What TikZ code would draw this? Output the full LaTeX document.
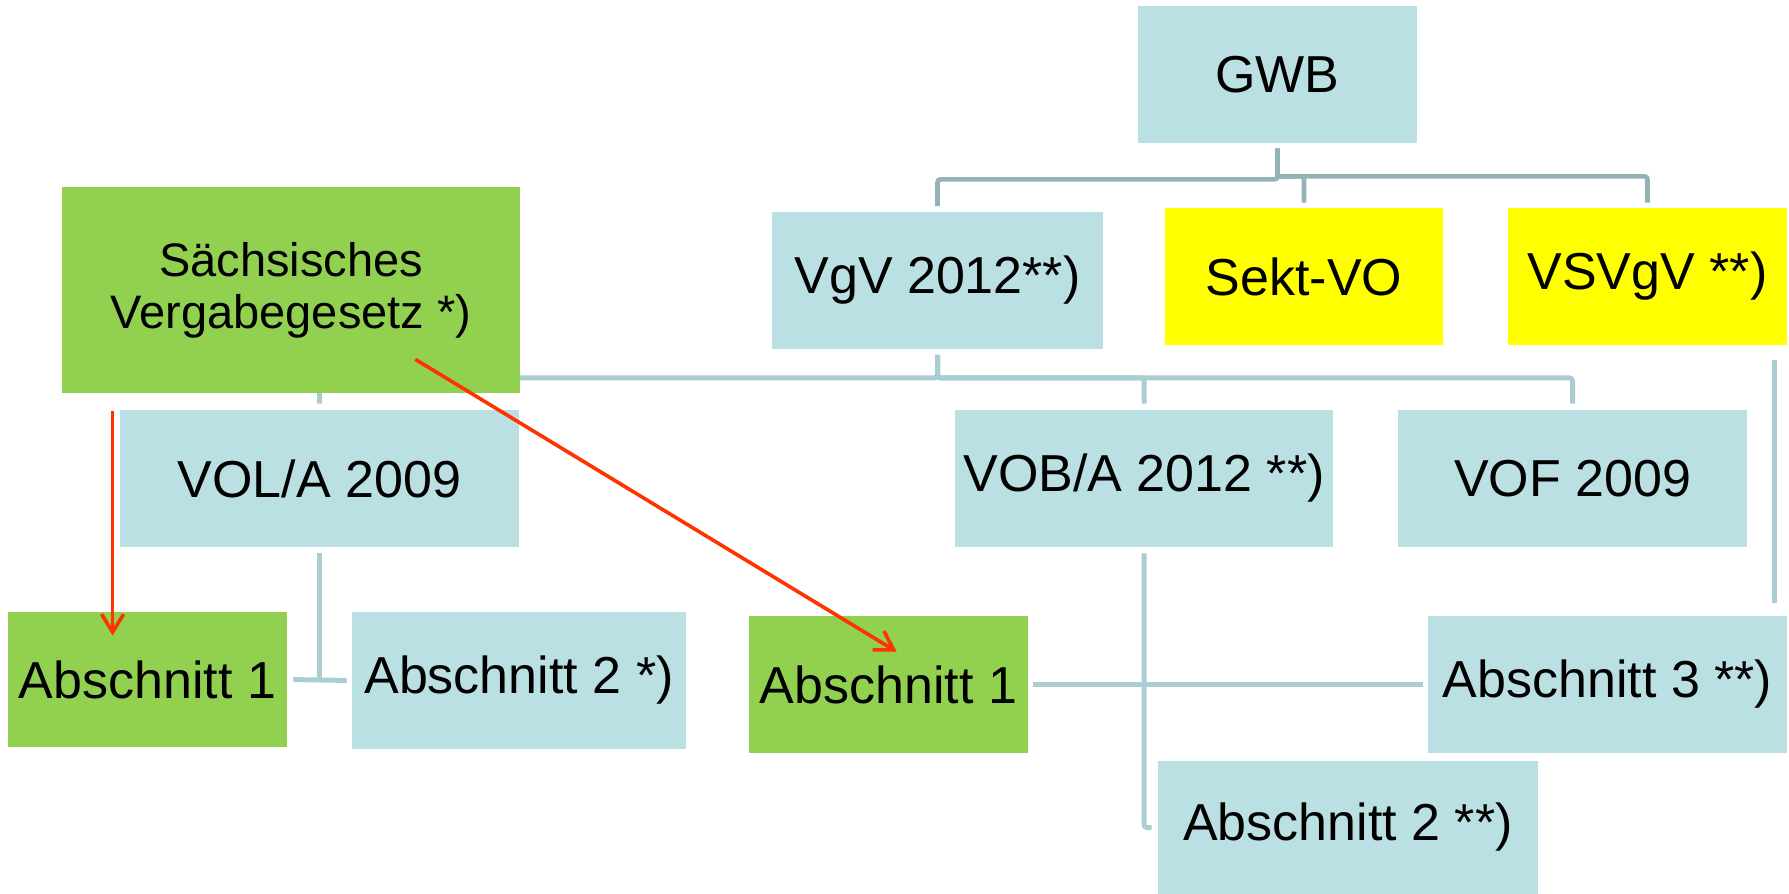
\documentclass[tikz,border=0pt]{standalone}
\usepackage{fontspec}
\setmainfont{Liberation Sans}
\usepackage{tikz}
\usetikzlibrary{positioning,arrows.meta,backgrounds}
\definecolor{vblue}{HTML}{BBE0E3}
\definecolor{vgreen}{HTML}{92D050}
\definecolor{vyellow}{HTML}{FFFF00}
\definecolor{vtop}{HTML}{94B3B7}
\definecolor{vline}{HTML}{A9CDD1}
\definecolor{vred}{HTML}{FF3300}

\begin{document}
\begin{tikzpicture}[x=0.5pt, y=-0.5pt, font=\fontsize{26}{28.6}\selectfont,
  box/.style={fill=vblue, inner sep=0pt, minimum height=68.5pt, align=center},
  grn/.style={box, fill=vgreen},
  ylw/.style={box, fill=vyellow},
  toplnk/.style={draw=vtop, line width=2.3pt, rounded corners=1.5pt, shorten <=2.5pt, shorten >=2.5pt},
  lnk/.style={draw=vline, line width=2.5pt, rounded corners=1.5pt},
  rarr/.style={draw=vred, line width=1.8pt, -{Straight Barb[length=9pt, width=11pt]}}]
\useasboundingbox (0,0) rectangle (1789,894);
% obere Ebene
\node[box, minimum width=139.5pt] (gwb) at (1277.5,74.5) {GWB};
\node[box, minimum width=165.5pt] (vgv) at (937.5,280) {VgV 2012**)};
\node[ylw, minimum width=139pt] (sekt) at (1304,276.5) {Sekt-VO};
\node[ylw, minimum width=139.5pt] (vsvgv) at (1647.5,276.5) {VSVgV **)};
\node[grn, minimum width=229pt, minimum height=103pt, font=\fontsize{23.5}{26}\selectfont] (saechs) at (291,290) {Sächsisches\\ Vergabegesetz *)};
% Verdingungsordnungen
\node[box, minimum width=199.5pt] (vola) at (319.5,478.5) {VOL/A 2009};
\node[box, minimum width=189pt] (vob) at (1144,478.5) {VOB/A 2012 **)};
\node[box, minimum width=174.5pt] (vof) at (1572.5,478.5) {VOF 2009};
% Abschnitte
\node[grn, minimum width=139.5pt, minimum height=67.5pt] (absa1) at (147.5,679.5) {Abschnitt 1};
\node[box, minimum width=167pt] (absa2) at (519,680.5) {Abschnitt 2 *)};
\node[grn, minimum width=139.5pt] (absb1) at (888.5,684.5) {Abschnitt 1};
\node[box, minimum width=179.5pt] (absb3) at (1607.5,684.5) {Abschnitt 3 **)};
\node[box, minimum width=190pt, minimum height=66.5pt] (absb2) at (1348,827.5) {Abschnitt 2 **)};

\begin{scope}[on background layer]
\draw[toplnk] (gwb.south) -- ++(0,36) -| (vgv.north);
\draw[toplnk] (gwb.south) -- ++(0,33) -| (vsvgv.north);
\draw[toplnk, shorten <=0pt] ([yshift=-16.5pt]gwb.south) -| (sekt.north);
\draw[lnk, shorten <=3pt, shorten >=3pt] (vgv.south) -- ++(0,29) -| (vola.north);
\draw[lnk, shorten <=3pt, shorten >=3pt] (vgv.south) -- ++(0,29) -| (vob.north);
\draw[lnk, shorten <=3pt, shorten >=3pt] (vgv.south) -- ++(0,29) -| (vof.north);
\draw[lnk, shorten <=3pt] (vola.south) -- (vola.south |- absa1.east);
\draw[lnk, shorten <=3pt, shorten >=2.5pt] (absa1.east) -- (absa2.west);
\draw[lnk, shorten <=3pt, shorten >=3pt] (vob.south) |- (absb2.west);
\draw[lnk, shorten <=2.5pt, shorten >=2.5pt] (absb1.east) -- (absb3.west);
\draw[lnk, shorten <=7.5pt, shorten >=6.5pt] ([xshift=-6.5pt]vsvgv.south east) -- ([xshift=-6.5pt]absb3.north east);
\end{scope}

\draw[rarr] ([xshift=25.5pt, yshift=-9pt]saechs.south west) -- ([xshift=52.5pt, yshift=-12pt]absa1.north west);
\draw[rarr] ([xshift=-52.5pt, yshift=17pt]saechs.south east) -- ([xshift=74pt, yshift=-18pt]absb1.north west);
\end{tikzpicture}
\end{document}
